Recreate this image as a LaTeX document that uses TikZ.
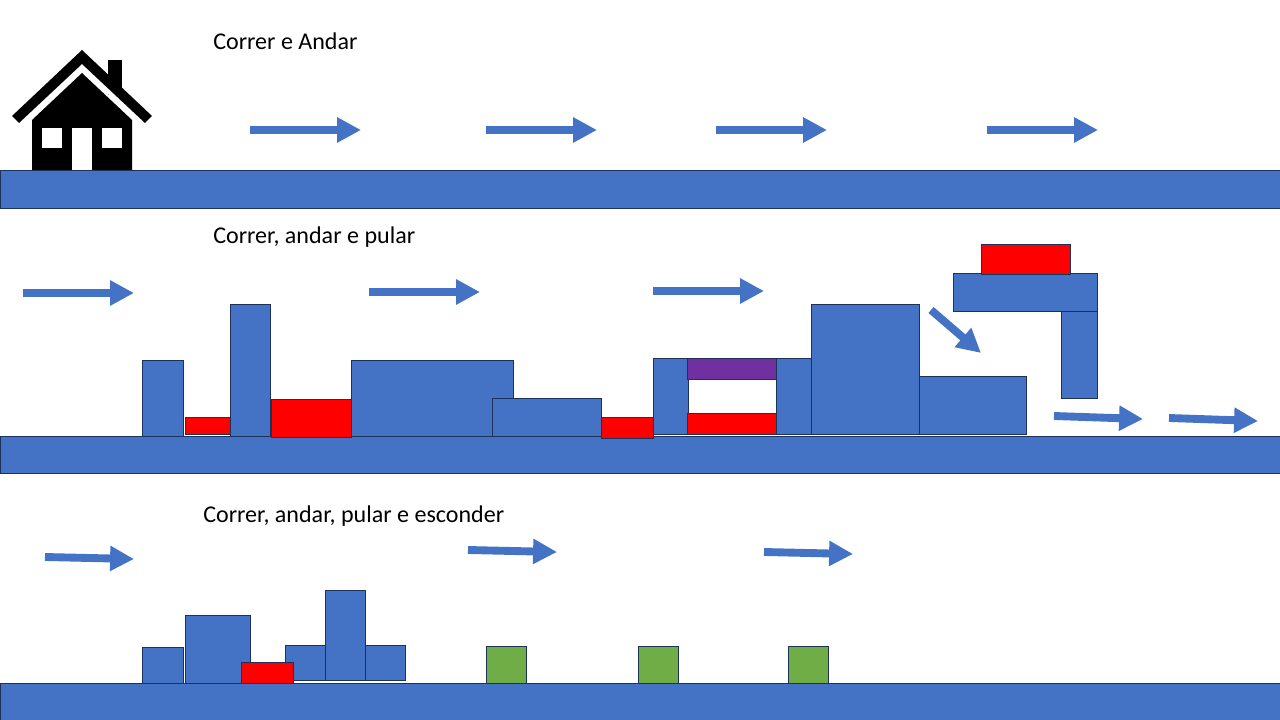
\documentclass[tikz,border=0pt]{standalone}
\usepackage{fontspec}
\setmainfont{Carlito}
\usetikzlibrary{arrows.meta}
\definecolor{blockblue}{RGB}{68,114,196}
\definecolor{blockedge}{RGB}{28,50,90}
\definecolor{hidegreen}{RGB}{112,173,71}
\definecolor{tunnelpurple}{RGB}{112,48,160}
\tikzset{
    block/.style={draw=blockedge, line width=0.7pt, fill=blockblue},
    hazard/.style={block, fill=red},
    hide/.style={block, fill=hidegreen},
    tunnel/.style={block, fill=tunnelpurple},
    moveto/.style={draw=blockblue, line width=5.6pt, -{Triangle[length=17pt,width=17pt]}},
    title/.style={anchor=west, inner sep=0pt, font=\fontsize{17.1}{20}\selectfont}
}
\begin{document}
\begin{tikzpicture}[x=0.025cm,y=-0.025cm]
    \useasboundingbox (0,0) rectangle (1280,720);
    % house
    \fill (108,60) rectangle (122,95);
    \fill[white] (82,62) -- (152,122) -- (152,132) -- (82,72) -- (12,132) -- (12,122) -- cycle;
    \fill (82,50) -- (152,116) -- (145,123) -- (82,64) -- (19,123) -- (12,116) -- cycle;
    \fill (82,73) -- (132,120) -- (132,170) -- (32,170) -- (32,120) -- cycle;
    \fill[white] (42,128) rectangle (62,148);
    \fill[white] (102,128) rectangle (122,148);
    \fill[white] (72,128) rectangle (92,170);
    % first row
    \draw[block] (0,170) rectangle (1280,208);
    \node[title] (walktitle) at (213,41) {Correr e Andar};
    \draw[moveto] (250,130) -- (361,130);
    \draw[moveto] (486,130) -- (597,130);
    \draw[moveto] (716,130) -- (827,130);
    \draw[moveto] (987,130) -- (1098,130);
    % second row
    \draw[block] (0,436) rectangle (1280,473);
    \node[title] (jumptitle) at (213,237) {Correr, andar e pular};
    \draw[moveto] (23,293) -- (134,293);
    \draw[moveto] (369,292) -- (480,292);
    \draw[moveto] (653,291) -- (764,291);
    \draw[moveto] (931,310) -- (981,353);
    \draw[moveto] (1054,416) -- (1143,419);
    \draw[moveto] (1169,418) -- (1258,421);
    \draw[block] (142,360) rectangle (183.5,436);
    \draw[hazard] (185,417) rectangle (231,434.5);
    \draw[block] (230,304) rectangle (270.5,436);
    \draw[hazard] (271,399) rectangle (351.5,437);
    \draw[block] (351,360) rectangle (513.5,436);
    \draw[block] (492,398) rectangle (601.5,436);
    \draw[hazard] (601,417) rectangle (653.5,438);
    \draw[block] (653,358) rectangle (688,434);
    \draw[tunnel] (687,358) rectangle (776.5,379.5);
    \draw[hazard] (687,413) rectangle (776.5,434);
    \draw[block] (776,358) rectangle (812,434);
    \draw[block] (811,304) rectangle (919.5,434);
    \draw[block] (919,376) rectangle (1026.5,434);
    \draw[block] (1061,311) rectangle (1097.5,398);
    \draw[block] (953,273) rectangle (1097.5,311);
    \draw[hazard] (981,244) rectangle (1070.5,274);
    % third row
    \draw[block] (0,683) rectangle (1280,720);
    \node[title] (hidetitle) at (203,516) {Correr, andar, pular e esconder};
    \draw[moveto] (45,557) -- (134,559);
    \draw[moveto] (468,550) -- (557,552);
    \draw[moveto] (764,552) -- (853,554);
    \draw[block] (142,647) rectangle (183.5,683);
    \draw[block] (185,615) rectangle (250.5,683);
    \draw[block] (285,645) rectangle (326,680);
    \draw[block] (364.5,645) rectangle (405.5,680);
    \draw[block] (325,590) rectangle (365.5,680);
    \draw[hazard] (241,662) rectangle (293.5,683);
    \draw[hide] (486,646) rectangle (526.5,683);
    \draw[hide] (638,646) rectangle (678.5,683);
    \draw[hide] (788,646) rectangle (828.5,683);
\end{tikzpicture}
\end{document}
